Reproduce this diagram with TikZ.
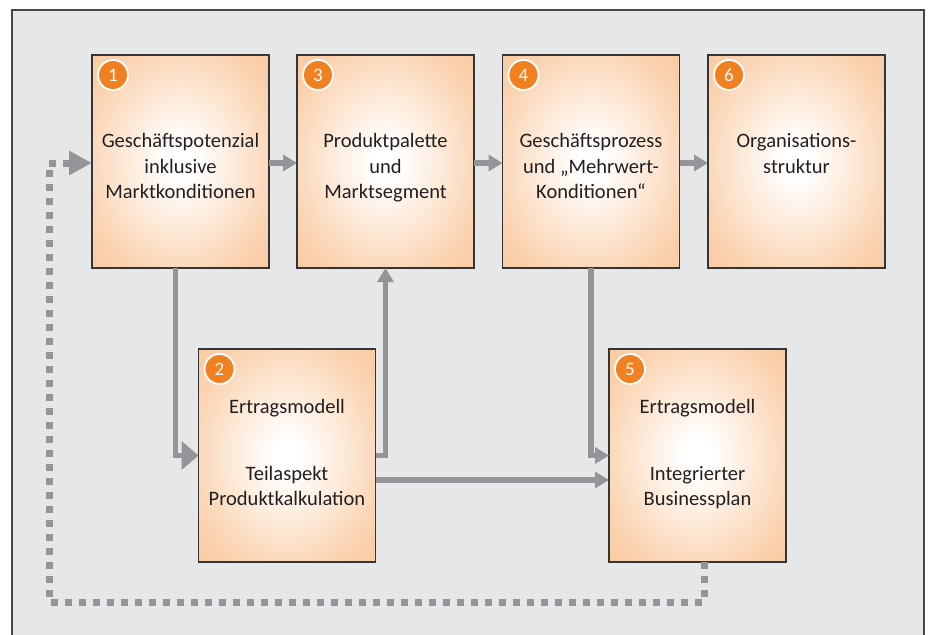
\documentclass[tikz,border=0pt]{standalone}
\usepackage{fontspec}
\setmainfont{Carlito}
\usetikzlibrary{arrows.meta,calc}
\definecolor{bg}{RGB}{230,231,232}
\definecolor{frameC}{RGB}{70,70,72}
\definecolor{boxline}{RGB}{55,52,53}
\definecolor{boxO}{RGB}{248,184,128}
\colorlet{boxMid}{boxO!62!white}
\definecolor{numO}{RGB}{240,128,32}
\definecolor{arrG}{RGB}{147,149,152}
\definecolor{txt}{RGB}{35,31,32}
\pgfdeclareradialshading{boxshade}{\pgfpoint{0bp}{0bp}}{color(0bp)=(white); color(4bp)=(white); color(28bp)=(boxMid); color(50bp)=(boxO); color(100bp)=(boxO)}
\begin{document}
\begin{tikzpicture}[x=1pt,y=-1pt,
  boxnode/.style={rectangle, draw=boxline, line width=1.2pt, shading=boxshade, shade, minimum width=177pt, minimum height=213pt, inner sep=0pt, outer sep=0pt},
  numnode/.style={circle, fill=numO, draw=white, line width=1.8pt, minimum size=30pt, inner sep=0pt, text=white, font=\fontsize{19}{19}\selectfont},
  lbl/.style={anchor=base, text=txt, font=\fontsize{20.5}{24}\selectfont, inner sep=0pt},
  arr/.style={draw=arrG, line width=5.5pt, -{Triangle[length=14pt,width=16pt]}},
  fbk/.style={draw=arrG, line width=7pt, dash pattern=on 7pt off 7pt, -{Triangle[length=23pt,width=23pt]}}
]
\useasboundingbox (0,0) rectangle (930,635);
\clip (0,0) rectangle (930,635);
\fill[white] (0,0) rectangle (930,635);
\draw[draw=frameC, line width=2pt, fill=bg] (12,9.5) rectangle (924,660);

\node[boxnode] (b1) at (180.5,161.5) {};
\node[boxnode] (b3) at (385.5,161.5) {};
\node[boxnode] (b4) at (591,161.5) {};
\node[boxnode] (b6) at (796.5,161.5) {};
\node[boxnode] (b2) at (287,455.5) {};
\node[boxnode] (b5) at (697.5,455.5) {};

\foreach \b/\n in {b1/1,b2/2,b3/3,b4/4,b5/5,b6/6}
  \node[numnode] (n\n) at ($(\b.north west)+(21,20)$) {\n};

\node[lbl] (t1a) at (180.5,147) {Geschäftspotenzial};
\node[lbl] (t1b) at (180.5,173) {inklusive};
\node[lbl] (t1c) at (180.5,198.5) {Marktkonditionen};

\node[lbl] (t3a) at (385.5,147) {Produktpalette};
\node[lbl] (t3b) at (385.5,173) {und};
\node[lbl] (t3c) at (385.5,198.5) {Marktsegment};

\node[lbl] (t4a) at (591,147) {Geschäftsprozess};
\node[lbl] (t4b) at (591,173) {und „Mehrwert-};
\node[lbl] (t4c) at (591,198.5) {Konditionen“};

\node[lbl] (t6a) at (796.5,147) {Organisations-};
\node[lbl] (t6b) at (796.5,173) {struktur};

\node[lbl] (t2a) at (287,413) {Ertragsmodell};
\node[lbl] (t2b) at (287,480) {Teilaspekt};
\node[lbl] (t2c) at (287,505.5) {Produktkalkulation};

\node[lbl] (t5a) at (697.5,413) {Ertragsmodell};
\node[lbl] (t5b) at (697.5,480) {Integrierter};
\node[lbl] (t5c) at (697.5,505.5) {Businessplan};

\draw[arr] ($(b1.east)+(0,1.5)$) -- ($(b3.west)+(0,1.5)$);
\draw[arr] ($(b3.east)+(0,1.5)$) -- ($(b4.west)+(0,1.5)$);
\draw[arr] ($(b4.east)+(0,1.5)$) -- ($(b6.west)+(0,1.5)$);
\draw[arr, -{Triangle[length=17pt,width=28pt]}] ($(b1.south)+(-5,0)$) |- (b2.west);
\draw[arr] (b2.east) -| (b3.south);
\draw[arr] ($(b2.east)+(0,24.5)$) -- ($(b5.west)+(0,24.5)$);
\draw[arr] (b4.south) |- (b5.west);
\coordinate (fbA) at (49,602);
\draw[fbk] ($(b5.south)+(6.5,0)$) |- (fbA) |- ($(b1.west)+(0,1.5)$);
\end{tikzpicture}
\end{document}
